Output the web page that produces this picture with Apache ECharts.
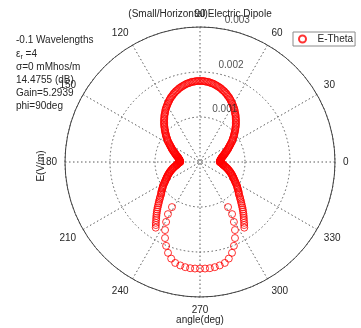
<!DOCTYPE html>
<html>
<head>
<meta charset="utf-8">
<script src="https://cdn.jsdelivr.net/npm/echarts@6/dist/echarts.min.js"></script>
<style>
  html, body { margin: 0; padding: 0; background: #fff; }
  #chart { width: 361px; height: 328px; }
</style>
</head>
<body>
<div id="chart"></div>
<script>
// E-Theta field pattern, phi = 90deg cut. Angles in degrees, field in V/m.

// Upper lobe, 0..180 deg
const upperAngles = [
  0, 1, 2, 3, 4, 5, 6, 7, 8, 9, 10, 11, 12, 13, 14, 15, 16, 17, 18, 19,
  20, 21, 22, 23, 24, 25, 26, 27, 28, 29, 30, 31, 32, 33, 34, 35, 36, 37, 38, 39,
  40, 41, 42, 43, 44, 45, 46, 47, 48, 49, 50, 51, 52, 53, 54, 55, 56, 57, 58, 59,
  60, 61, 62, 63, 64, 65, 66, 67, 68, 69, 70, 71, 72, 73, 74, 75, 76, 77, 78, 79,
  80, 81, 82, 83, 84, 85, 86, 87, 88, 89, 90,
  91, 92, 93, 94, 95, 96, 97, 98, 99, 100, 101, 102, 103, 104, 105, 106, 107, 108, 109, 110,
  111, 112, 113, 114, 115, 116, 117, 118, 119, 120, 121, 122, 123, 124, 125, 126, 127, 128, 129, 130,
  131, 132, 133, 134, 135, 136, 137, 138, 139, 140, 141, 142, 143, 144, 145, 146, 147, 148, 149, 150,
  151, 152, 153, 154, 155, 156, 157, 158, 159, 160, 161, 162, 163, 164, 165, 166, 167, 168, 169, 170,
  171, 172, 173, 174, 175, 176, 177, 178, 179, 180
];
const upperField = [
  0.00044, 0.00044, 0.00045, 0.00045, 0.00045, 0.00045, 0.00046, 0.00046, 0.00047, 0.00048,
  0.00049, 0.00049, 0.00050, 0.00051, 0.00052, 0.00054, 0.00055, 0.00056, 0.00057, 0.00059,
  0.00060, 0.00062, 0.00063, 0.00065, 0.00067, 0.00069, 0.00070, 0.00072, 0.00074, 0.00076,
  0.00078, 0.00080, 0.00083, 0.00085, 0.00087, 0.00089, 0.00091, 0.00094, 0.00096, 0.00098,
  0.00100, 0.00103, 0.00105, 0.00107, 0.00110, 0.00112, 0.00115, 0.00117, 0.00119, 0.00122,
  0.00124, 0.00126, 0.00129, 0.00131, 0.00133, 0.00135, 0.00138, 0.00140, 0.00142, 0.00144,
  0.00146, 0.00148, 0.00150, 0.00152, 0.00154, 0.00156, 0.00158, 0.00159, 0.00161, 0.00163,
  0.00164, 0.00166, 0.00167, 0.00168, 0.00170, 0.00171, 0.00172, 0.00173, 0.00174, 0.00175,
  0.00176, 0.00177, 0.00177, 0.00178, 0.00179, 0.00179, 0.00179, 0.00180, 0.00180, 0.00180,
  0.00180,
  0.00180, 0.00180, 0.00180, 0.00179, 0.00179, 0.00179, 0.00178, 0.00177, 0.00177, 0.00176,
  0.00175, 0.00174, 0.00173, 0.00172, 0.00171, 0.00170, 0.00168, 0.00167, 0.00166, 0.00164,
  0.00163, 0.00161, 0.00159, 0.00158, 0.00156, 0.00154, 0.00152, 0.00150, 0.00148, 0.00146,
  0.00144, 0.00142, 0.00140, 0.00138, 0.00135, 0.00133, 0.00131, 0.00129, 0.00126, 0.00124,
  0.00122, 0.00119, 0.00117, 0.00115, 0.00112, 0.00110, 0.00107, 0.00105, 0.00103, 0.00100,
  0.00098, 0.00096, 0.00094, 0.00091, 0.00089, 0.00087, 0.00085, 0.00083, 0.00080, 0.00078,
  0.00076, 0.00074, 0.00072, 0.00070, 0.00069, 0.00067, 0.00065, 0.00063, 0.00062, 0.00060,
  0.00059, 0.00057, 0.00056, 0.00055, 0.00054, 0.00052, 0.00051, 0.00050, 0.00049, 0.00049,
  0.00048, 0.00047, 0.00046, 0.00046, 0.00045, 0.00045, 0.00045, 0.00045, 0.00044, 0.00044
];

// Lower lobe, left flank 180..236 deg
const lowerLeftAngles = [
  180, 181, 182, 183, 184, 185, 186, 187, 188, 189, 190, 191, 192, 193, 194, 195, 196, 197, 198, 199,
  200, 201, 202, 203, 204, 205, 206, 207, 208, 209, 210, 211, 212, 213, 214, 215, 216, 217, 218, 219,
  220, 221, 222, 223, 224, 225, 226, 227, 228, 229, 230, 231, 232, 233, 234, 235, 236
];
const lowerLeftField = [
  0.00044, 0.00046, 0.00047, 0.00048, 0.00049, 0.00050, 0.00051, 0.00052, 0.00053, 0.00055,
  0.00057, 0.00058, 0.00060, 0.00062, 0.00063, 0.00065, 0.00067, 0.00068, 0.00070, 0.00072,
  0.00073, 0.00075, 0.00077, 0.00078, 0.00080, 0.00082, 0.00083, 0.00085, 0.00087, 0.00089,
  0.00091, 0.00093, 0.00096, 0.00098, 0.00100, 0.00102, 0.00104, 0.00107, 0.00109, 0.00111,
  0.00113, 0.00117, 0.00120, 0.00123, 0.00127, 0.00130, 0.00134, 0.00138, 0.00142, 0.00146,
  0.00150, 0.00154, 0.00158, 0.00162, 0.00167, 0.00171, 0.00176
];

// Lower lobe, right flank 304..360 deg
const lowerRightAngles = [
  304, 305, 306, 307, 308, 309, 310, 311, 312, 313, 314, 315, 316, 317, 318, 319, 320, 321, 322, 323,
  324, 325, 326, 327, 328, 329, 330, 331, 332, 333, 334, 335, 336, 337, 338, 339, 340, 341, 342, 343,
  344, 345, 346, 347, 348, 349, 350, 351, 352, 353, 354, 355, 356, 357, 358, 359, 360
];
const lowerRightField = [
  0.00176, 0.00171, 0.00167, 0.00162, 0.00158, 0.00154, 0.00150, 0.00146, 0.00142, 0.00138,
  0.00134, 0.00130, 0.00127, 0.00123, 0.00120, 0.00117, 0.00113, 0.00111, 0.00109, 0.00107,
  0.00104, 0.00102, 0.00100, 0.00098, 0.00096, 0.00093, 0.00091, 0.00089, 0.00087, 0.00085,
  0.00083, 0.00082, 0.00080, 0.00078, 0.00077, 0.00075, 0.00073, 0.00072, 0.00070, 0.00068,
  0.00067, 0.00065, 0.00063, 0.00062, 0.00060, 0.00058, 0.00057, 0.00055, 0.00053, 0.00052,
  0.00051, 0.00050, 0.00049, 0.00048, 0.00047, 0.00046, 0.00044
];

// Lower lobe, bottom section
const bottomAngles = [
  238.1, 238.4, 240.5, 242.8, 245.3, 248.0, 250.6, 253.4, 256.2, 259.2, 262.0, 264.7, 267.3,
  270.0,
  272.7, 275.3, 278.0, 280.8, 283.8, 286.6, 289.4, 292.0, 294.7, 297.2, 299.5, 301.6, 301.9
];
const bottomField = [
  0.00118, 0.00136, 0.00153, 0.00170, 0.00186, 0.00201, 0.00214, 0.00224, 0.00231, 0.00234,
  0.00236, 0.00237, 0.00237,
  0.00237,
  0.00237, 0.00237, 0.00236, 0.00234, 0.00231, 0.00224, 0.00214, 0.00201, 0.00186, 0.00170,
  0.00153, 0.00136, 0.00118
];

// Radial grid rings and their label angle
const ringValues = [0.001, 0.002, 0.003];
const ringLabelAngle = 82;

// Annotation block
const infoLines = [
  '-0.1 Wavelengths',
  '\u03B5{s|r} =4',
  '\u03C3=0 mMhos/m',
  '14.4755 (dB)',
  'Gain=5.2939',
  'phi=90deg'
];

const seriesName = 'E-Theta';
const titleText = '(Small/Horizontal)Electric Dipole';
const xLabel = 'angle(deg)';
const yLabel = 'E(V/m)';

function pairs(angles, field) {
  return angles.map((a, i) => [field[i], a]);
}
const patternData = []
  .concat(pairs(upperAngles, upperField))
  .concat(pairs(lowerLeftAngles, lowerLeftField))
  .concat(pairs(bottomAngles, bottomField))
  .concat(pairs(lowerRightAngles, lowerRightField));

const FONT = 'Liberation Sans, Arial, Helvetica, sans-serif';
const TXT = '#262626';
const GRID = '#5a5a5a';
const dotted = { color: GRID, width: 1, type: [1.5, 2.5] };

const chart = echarts.init(document.getElementById('chart'), null, { renderer: 'canvas' });
chart.setOption({
  animation: false,
  backgroundColor: '#fff',
  textStyle: { fontFamily: FONT },
  title: {
    text: titleText,
    left: 200,
    top: 9,
    textAlign: 'center',
    padding: 0,
    textStyle: { fontSize: 10, fontWeight: 'normal', color: TXT, fontFamily: FONT }
  },
  legend: {
    data: [{ name: seriesName, icon: 'circle' }],
    left: 293,
    top: 32,
    orient: 'vertical',
    backgroundColor: '#fff',
    borderColor: '#8a8a8a',
    borderWidth: 1,
    borderRadius: 0,
    padding: [2, 2, 2, 5],
    itemWidth: 20,
    itemHeight: 7,
    selectedMode: false,
    textStyle: { fontSize: 10, color: TXT, fontFamily: FONT }
  },
  polar: { center: [200, 162], radius: 135 },
  angleAxis: {
    type: 'value',
    min: 0,
    max: 360,
    interval: 30,
    startAngle: 0,
    clockwise: false,
    axisLine: { show: true, lineStyle: { color: '#444', width: 1 } },
    axisTick: { show: false },
    splitLine: { show: true, lineStyle: dotted },
    axisLabel: {
      margin: 8,
      fontSize: 10,
      color: TXT,
      fontFamily: FONT,
      formatter: v => (v === 360 ? '' : String(v))
    }
  },
  radiusAxis: {
    type: 'value',
    min: 0,
    max: 0.003,
    interval: 0.001,
    axisLine: { show: false },
    axisTick: { show: false },
    axisLabel: { show: false },
    splitLine: { show: true, lineStyle: dotted }
  },
  series: [
    {
      name: 'rings',
      type: 'scatter',
      coordinateSystem: 'polar',
      silent: true,
      symbol: 'circle',
      symbolSize: 0,
      itemStyle: { color: 'rgba(0,0,0,0)' },
      data: ringValues.map(v => [v, ringLabelAngle]),
      label: {
        show: true,
        position: [0, 0],
        align: 'left',
        verticalAlign: 'bottom',
        padding: [0, 0, 3, 6],
        fontSize: 10,
        color: TXT,
        fontFamily: FONT,
        formatter: p => String(p.value[0])
      },
      z: 3
    },
    {
      name: seriesName,
      type: 'scatter',
      coordinateSystem: 'polar',
      symbol: 'circle',
      symbolSize: 7,
      itemStyle: { color: 'rgba(0,0,0,0)', borderColor: '#ff0000', borderWidth: 1 },
      emphasis: { disabled: true },
      data: patternData,
      z: 2
    }
  ],
  graphic: [
    {
      type: 'text',
      left: 16,
      top: 34,
      style: {
        text: infoLines.join('\n'),
        fontSize: 10,
        fontFamily: FONT,
        fill: TXT,
        lineHeight: 13.2,
        rich: {
          s: { fontSize: 7, fontFamily: FONT, fill: TXT, verticalAlign: 'bottom', lineHeight: 13.2, padding: [3, 0, 0, 0] }
        }
      }
    },
    {
      type: 'text',
      x: 41,
      y: 166,
      rotation: Math.PI / 2,
      style: { text: yLabel, fontSize: 10, fontFamily: FONT, fill: TXT, align: 'center', verticalAlign: 'middle' }
    },
    {
      type: 'text',
      x: 200,
      y: 320,
      style: { text: xLabel, fontSize: 10, fontFamily: FONT, fill: TXT, align: 'center', verticalAlign: 'middle' }
    }
  ]
});
</script>
</body>
</html>
